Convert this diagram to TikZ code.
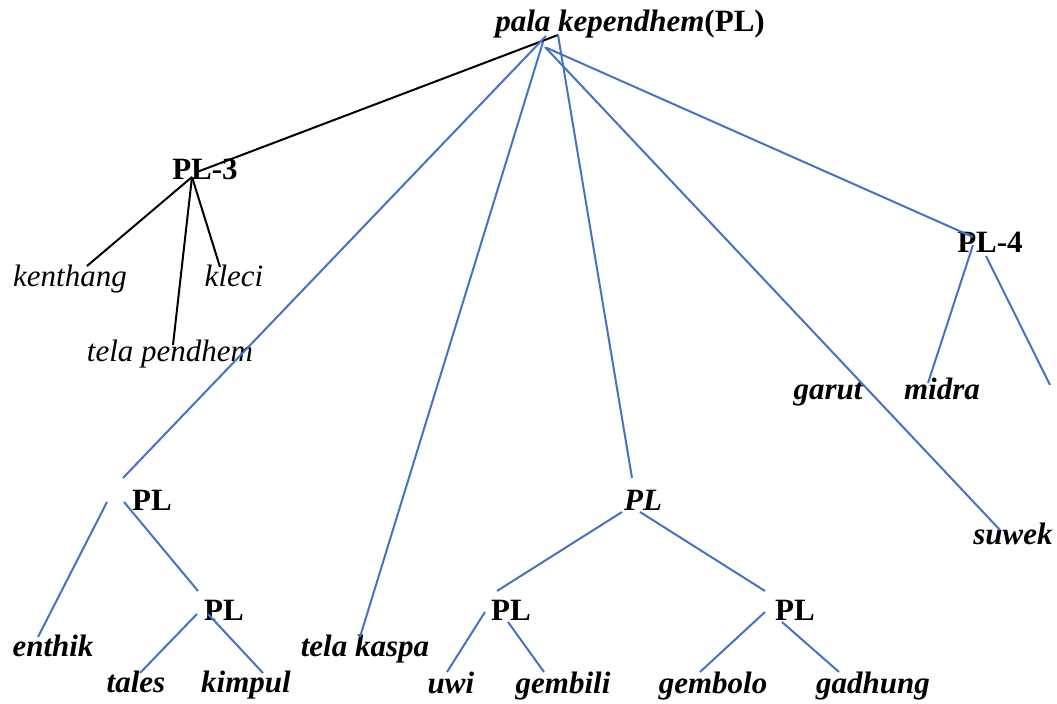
\documentclass[tikz,border=0pt]{standalone}
\usepackage{fontspec}
\setmainfont{Liberation Serif}
\usetikzlibrary{positioning}
\definecolor{treeblue}{RGB}{68,114,196}

\begin{document}
\begin{tikzpicture}[x=0.5pt,y=-0.5pt,line width=1pt,
  word/.style={anchor=base,inner sep=0pt,font=\fontsize{15.5}{18}\selectfont},
  leaf/.style={word,font=\fontsize{15.5}{18}\selectfont\itshape},
  bleaf/.style={word,font=\fontsize{15.5}{18}\selectfont\bfseries\itshape},
  cat/.style={word,font=\fontsize{15.5}{18}\selectfont\bfseries},
  blue edge/.style={draw=treeblue},
  black edge/.style={draw=black}]

  \useasboundingbox (0,0) rectangle (1057,704);

  % labels
  \node[word] (pl) at (630,32) {\textbf{\textit{pala kependhem}}\textbf{(PL)}};
  \node[cat] (pl3) at (205,180) {PL-3};
  \node[leaf] (kenthang) at (70,287) {kenthang};
  \node[leaf] (kleci) at (234,287) {kleci};
  \node[leaf] (telapendhem) at (170,362) {tela pendhem};
  \node[cat] (pl4) at (990,253) {PL-4};
  \node[bleaf] (garut) at (828,400) {garut};
  \node[bleaf] (midra) at (942,400) {midra};
  \node[bleaf] (suwek) at (1013,545) {suwek};
  \node[cat] (plA) at (152,511) {PL};
  \node[cat] (plB) at (224,621) {PL};
  \node[bleaf] (enthik) at (53,657) {enthik};
  \node[bleaf] (tales) at (136,693) {tales};
  \node[bleaf] (kimpul) at (246,693) {kimpul};
  \node[bleaf] (telakaspa) at (365,657) {tela kaspa};
  \node[bleaf] (plC) at (643,511) {PL};
  \node[cat] (plD) at (511,621) {PL};
  \node[cat] (plE) at (795,621) {PL};
  \node[bleaf] (uwi) at (451,694) {uwi};
  \node[bleaf] (gembili) at (563,694) {gembili};
  \node[bleaf] (gembolo) at (713,694) {gembolo};
  \node[bleaf] (gadhung) at (873,694) {gadhung};

  % joints
  \coordinate (r1) at (558,35);
  \coordinate (r2) at (546,36);
  \coordinate (r3) at (543,42);
  \coordinate (r4) at (545,47);
  \coordinate (r5) at (547,48);
  \coordinate (pl3 in) at (197,172);
  \coordinate (pl3 out) at (192,177);
  \coordinate (kenthang top) at (87,266);
  \coordinate (kleci top) at (220,267);
  \coordinate (telapendhem top) at (173,345);
  \coordinate (plA in) at (123,478);
  \coordinate (plA l) at (107,502);
  \coordinate (plA r) at (124,502);
  \coordinate (enthik top) at (38,637);
  \coordinate (plB in) at (198,591);
  \coordinate (plB l) at (197,614);
  \coordinate (plB r) at (208,614);
  \coordinate (tales top) at (140,673);
  \coordinate (kimpul top) at (263,673);
  \coordinate (telakaspa top) at (360,637);
  \coordinate (plC in) at (632,478);
  \coordinate (plC l) at (622,512);
  \coordinate (plC r) at (640,512);
  \coordinate (plD in) at (497,591);
  \coordinate (plD l) at (485,612);
  \coordinate (plD r) at (508,622);
  \coordinate (uwi top) at (447,672);
  \coordinate (gembili top) at (544,672);
  \coordinate (plE in) at (765,591);
  \coordinate (plE l) at (765,612);
  \coordinate (plE r) at (782,622);
  \coordinate (gembolo top) at (700,672);
  \coordinate (gadhung top) at (839,672);
  \coordinate (pl4 in) at (973,237);
  \coordinate (pl4 l) at (973,245);
  \coordinate (pl4 r) at (986,256);
  \coordinate (midra top) at (928,383);
  \coordinate (pl4 end) at (1050,385);
  \coordinate (suwek top) at (1000,530);

  \path[black edge]
    (r1) edge (pl3 in)
    (pl3 out) edge (kenthang top)
    (pl3 out) edge (telapendhem top)
    (pl3 out) edge (kleci top);

  \path[blue edge]
    (r2) edge (plA in)
    (r3) edge (telakaspa top)
    (r1) edge (plC in)
    (r4) edge (suwek top)
    (r5) edge (pl4 in)
    (plA l) edge (enthik top)
    (plA r) edge (plB in)
    (plB l) edge (tales top)
    (plB r) edge (kimpul top)
    (plC l) edge (plD in)
    (plC r) edge (plE in)
    (plD l) edge (uwi top)
    (plD r) edge (gembili top)
    (plE l) edge (gembolo top)
    (plE r) edge (gadhung top)
    (pl4 l) edge (midra top)
    (pl4 r) edge (pl4 end);
\end{tikzpicture}
\end{document}
